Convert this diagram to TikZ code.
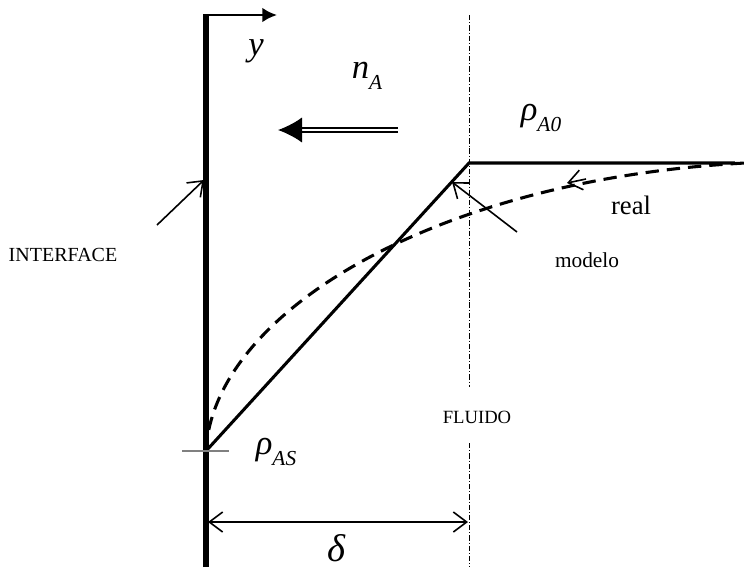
\documentclass[tikz,border=0pt]{standalone}
\usepackage{amsmath}
\usepackage{fontspec}
\setmainfont{Liberation Serif}
\usepackage{tikz}
\usetikzlibrary{arrows.meta, math}

% italic symbol with lowered subscript
\newcommand{\symsub}[2]{\textit{#1}\raisebox{-0.3em}{\fontsize{16}{16}\selectfont\textit{#2}}}

\begin{document}
\begin{tikzpicture}[x=0.75pt, y=-0.75pt,
    profile/.style={line width=2.3pt},
    pointer/.style={line width=1.2pt, -{Straight Barb[length=10pt, width=15pt]}},
    axisline/.style={line width=0.7pt, dash pattern=on 4pt off 1.5pt on 0.7pt off 1.5pt},
    word/.style={font=\fontsize{15}{15}\selectfont},
    symb/.style={font=\fontsize{26}{26}\selectfont}]
    \tikzmath{\xWall = 206; \xFluid = 469; \yTop = 15; \yBot = 567; \yS = 451; \yZero = 163; \yDelta = 522;}
    \useasboundingbox (0,0) rectangle (748,572);

    % wall and y axis
    \coordinate (wall-top) at (\xWall,\yTop);
    \coordinate (wall-bot) at (\xWall,\yBot);
    \coordinate (y-start) at (203,\yTop);
    \coordinate (y-end) at (277,\yTop);
    \draw[line width=4.5pt] (wall-bot) -- (wall-top);
    \draw[line width=2pt, -{Latex[length=11pt, width=11pt]}] (y-start) -- (y-end);
    \node[symb](y-lbl) at (256,51) {\textit{y}};

    % flux
    \node[symb](n-a) at (367,76) {\symsub{n}{A}};
    \coordinate (flux-tail) at (398,130);
    \coordinate (flux-tip) at (278,130);
    \draw[double, double distance=2.2pt, line width=1.4pt, -{Latex[length=18pt, width=19pt]}] (flux-tail) -- (flux-tip);

    % fluid boundary
    \coordinate (fluid-top) at (\xFluid,\yTop);
    \coordinate (fluid-gap1) at (\xFluid,387);
    \coordinate (fluid-gap2) at (\xFluid,443);
    \coordinate (fluid-bot) at (\xFluid,\yBot);
    \draw[axisline] (fluid-top) -- (fluid-gap1);
    \draw[axisline] (fluid-gap2) -- (fluid-bot);
    \node[word, font=\fontsize{14}{14}\selectfont](fluido) at (477,417) {FLUIDO};

    % profiles
    \coordinate (surf) at (\xWall,\yS);
    \coordinate (corner) at (\xFluid,\yZero);
    \coordinate (model-end) at (735,\yZero);
    \coordinate (real-end) at (745,\yZero);
    \draw[profile] (surf) -- (corner) -- (model-end);
    \draw[profile, dash pattern=on 10pt off 6pt] (surf) .. controls (213,315) and (430,180) .. (real-end);
    \coordinate (tick-l) at (182,\yS);
    \coordinate (tick-r) at (229,\yS);
    \draw[gray, line width=0.8pt] (tick-l) -- (tick-r);

    \node[symb](rho-a0) at (541,118) {\symsub{ρ}{A0}};
    \node[symb](rho-as) at (276,452) {\symsub{ρ}{AS}};

    % pointers
    \node[word](interface) at (63,255) {INTERFACE};
    \coordinate (if-tail) at (157,225);
    \coordinate (if-tip) at (204,180);
    \draw[pointer] (if-tail) -- (if-tip);

    \node[word, font=\fontsize{16}{16}\selectfont](modelo) at (587,260) {modelo};
    \coordinate (mod-tail) at (517,232);
    \coordinate (mod-tip) at (452,182);
    \draw[pointer] (mod-tail) -- (mod-tip);

    \node[font=\fontsize{20}{20}\selectfont](real) at (631,205) {real};
    \coordinate (real-tail) at (586,179);
    \coordinate (real-tip) at (567,183);
    \draw[pointer] (real-tail) -- (real-tip);

    % film thickness
    \coordinate (dim-l) at (\xWall+2,\yDelta);
    \coordinate (dim-r) at (\xFluid-1,\yDelta);
    \draw[line width=1.2pt, {Straight Barb[length=10pt, width=15pt]}-{Straight Barb[length=10pt, width=15pt]}] (dim-l) -- (dim-r);
    \node[font=\fontsize{29}{29}\selectfont, inner sep=0pt](delta) at (337,548) {\textit{δ}};
\end{tikzpicture}
\end{document}
